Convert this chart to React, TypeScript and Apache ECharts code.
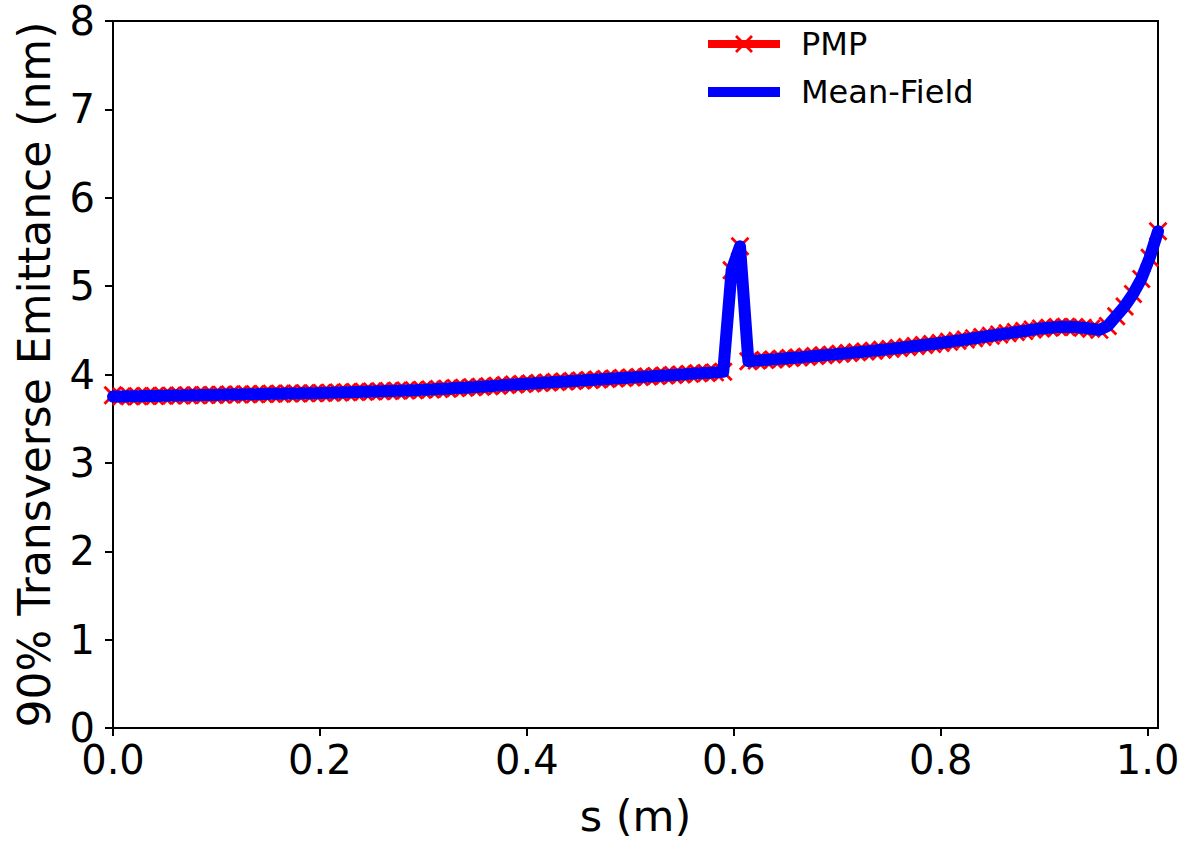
import React, { useEffect, useRef } from "react";
import * as echarts from "echarts";

const sValues = [
  0, 0.0081, 0.0162, 0.0242, 0.0323, 0.0404, 0.0485, 0.0566, 0.0646, 0.0727,
  0.0808, 0.0889, 0.097, 0.105, 0.1131, 0.1212, 0.1293, 0.1374, 0.1454, 0.1535,
  0.1616, 0.1697, 0.1778, 0.1858, 0.1939, 0.202, 0.2101, 0.2182, 0.2262, 0.2343,
  0.2424, 0.2505, 0.2586, 0.2666, 0.2747, 0.2828, 0.2909, 0.299, 0.307, 0.3151,
  0.3232, 0.3313, 0.3394, 0.3474, 0.3555, 0.3636, 0.3717, 0.3798, 0.3878, 0.3959,
  0.404, 0.4121, 0.4202, 0.4282, 0.4363, 0.4444, 0.4525, 0.4606, 0.4686, 0.4767,
  0.4848, 0.4929, 0.501, 0.509, 0.5171, 0.5252, 0.5333, 0.5414, 0.5494, 0.5575,
  0.5656, 0.5737, 0.5818, 0.5898, 0.5979, 0.606, 0.6141, 0.6222, 0.6302, 0.6383,
  0.6464, 0.6545, 0.6626, 0.6706, 0.6787, 0.6868, 0.6949, 0.703, 0.711, 0.7191,
  0.7272, 0.7353, 0.7434, 0.7514, 0.7595, 0.7676, 0.7757, 0.7838, 0.7918, 0.7999,
  0.808, 0.8161, 0.8242, 0.8322, 0.8403, 0.8484, 0.8565, 0.8646, 0.8726, 0.8807,
  0.8888, 0.8969, 0.905, 0.913, 0.9211, 0.9292, 0.9373, 0.9454, 0.9534, 0.9615,
  0.9696, 0.9777, 0.9858, 0.9938, 1.0019, 1.01,
];

const meanFieldValues = [
  3.75, 3.752, 3.753, 3.755, 3.756, 3.758, 3.76, 3.761, 3.763, 3.765,
  3.766, 3.768, 3.769, 3.771, 3.773, 3.774, 3.776, 3.777, 3.779, 3.781,
  3.782, 3.784, 3.786, 3.787, 3.789, 3.791, 3.793, 3.796, 3.799, 3.802,
  3.805, 3.808, 3.811, 3.814, 3.817, 3.82, 3.823, 3.826, 3.83, 3.835,
  3.84, 3.846, 3.851, 3.857, 3.862, 3.868, 3.874, 3.88, 3.886, 3.892,
  3.898, 3.903, 3.909, 3.914, 3.92, 3.926, 3.931, 3.937, 3.943, 3.949,
  3.954, 3.96, 3.966, 3.972, 3.978, 3.983, 3.989, 3.995, 4.001, 4.007,
  4.013, 4.018, 4.024, 4.03, 5.18, 5.45, 4.15, 4.157, 4.164, 4.171,
  4.178, 4.186, 4.193, 4.201, 4.209, 4.217, 4.225, 4.234, 4.242, 4.251,
  4.26, 4.27, 4.28, 4.29, 4.3, 4.311, 4.322, 4.333, 4.345, 4.357,
  4.37, 4.383, 4.396, 4.41, 4.424, 4.438, 4.452, 4.466, 4.48, 4.493,
  4.508, 4.52, 4.53, 4.537, 4.54, 4.537, 4.53, 4.518, 4.505, 4.55,
  4.66, 4.77, 4.91, 5.08, 5.32, 5.62,
];

const pmpValues = [
  3.765, 3.752, 3.753, 3.755, 3.756, 3.758, 3.76, 3.761, 3.763, 3.765,
  3.766, 3.768, 3.769, 3.771, 3.773, 3.774, 3.776, 3.777, 3.779, 3.781,
  3.782, 3.784, 3.786, 3.787, 3.789, 3.791, 3.793, 3.796, 3.799, 3.802,
  3.805, 3.808, 3.811, 3.814, 3.817, 3.82, 3.823, 3.826, 3.83, 3.835,
  3.84, 3.846, 3.851, 3.857, 3.862, 3.868, 3.874, 3.88, 3.886, 3.892,
  3.898, 3.903, 3.909, 3.914, 3.92, 3.926, 3.931, 3.937, 3.943, 3.949,
  3.954, 3.96, 3.966, 3.972, 3.978, 3.983, 3.989, 3.995, 4.001, 4.007,
  4.013, 4.018, 4.024, 4.03, 5.18, 5.45, 4.15, 4.157, 4.164, 4.171,
  4.178, 4.186, 4.193, 4.201, 4.209, 4.217, 4.225, 4.234, 4.242, 4.251,
  4.26, 4.27, 4.28, 4.29, 4.3, 4.311, 4.322, 4.333, 4.345, 4.357,
  4.37, 4.383, 4.396, 4.41, 4.424, 4.438, 4.452, 4.466, 4.48, 4.493,
  4.508, 4.52, 4.53, 4.537, 4.54, 4.537, 4.53, 4.518, 4.505, 4.55,
  4.66, 4.77, 4.91, 5.08, 5.32, 5.62,
];

const xTicks = [0, 0.2, 0.4, 0.6, 0.8, 1.0];
const yTicks = [0, 1, 2, 3, 4, 5, 6, 7, 8];

const FONT = "DejaVu Sans";
const RED = "#ff0000";
const BLUE = "#0000ff";
const X_SYMBOL = "path://M0,0L10,10M10,0L0,10";

export default function App() {
  const ref = useRef<HTMLDivElement>(null);
  useEffect(() => {
    if (!ref.current) return;
    const chart = echarts.init(ref.current, null, { renderer: "svg" });
    const pmpData = sValues.map((s, i) => [s, pmpValues[i]]);
    const mfData = sValues.map((s, i) => [s, meanFieldValues[i]]);
    chart.setOption({
      animation: false,
      backgroundColor: "#fff",
      grid: {
        left: 113,
        top: 21,
        right: 28,
        bottom: 110,
        show: true,
        borderColor: "#000",
        borderWidth: 2,
        backgroundColor: "transparent",
      },
      legend: {
        orient: "vertical",
        left: 698,
        top: 23,
        itemWidth: 72,
        itemHeight: 20,
        itemGap: 16,
        textStyle: {
          fontFamily: FONT,
          fontSize: 32,
          color: "#000",
          lineHeight: 32,
          padding: [0, 0, 0, 16],
        },
        data: [
          {
            name: "PMP",
            lineStyle: { width: 8, color: RED, cap: "butt" },
            itemStyle: { color: "transparent", borderColor: RED, borderWidth: 2.8 },
          },
          {
            name: "Mean-Field",
            lineStyle: { width: 10, color: BLUE, cap: "butt" },
            itemStyle: { color: "transparent", borderColor: "transparent", borderWidth: 0 },
          },
        ],
      },
      xAxis: {
        type: "value",
        min: 0,
        max: 1.01,
        interval: 0.2,
        name: "s (m)",
        nameLocation: "middle",
        nameGap: 66,
        nameTextStyle: { fontFamily: FONT, fontSize: 43, color: "#000" },
        axisLine: { show: true, lineStyle: { color: "#000", width: 2 } },
        axisTick: {
          show: true,
          length: 8,
          lineStyle: { color: "#000", width: 2 },
          customValues: xTicks,
        },
        axisLabel: {
          fontFamily: FONT,
          fontSize: 40,
          color: "#000",
          margin: 12,
          customValues: xTicks,
          formatter: (v: number) => v.toFixed(1),
        },
        splitLine: { show: false },
      },
      yAxis: {
        type: "value",
        min: 0,
        max: 8,
        interval: 1,
        name: "90% Transverse Emittance (nm)",
        nameLocation: "middle",
        nameGap: 57,
        nameTextStyle: { fontFamily: FONT, fontSize: 44, color: "#000" },
        axisLine: { show: true, lineStyle: { color: "#000", width: 2 } },
        axisTick: {
          show: true,
          length: 8,
          lineStyle: { color: "#000", width: 2 },
          customValues: yTicks,
        },
        axisLabel: {
          fontFamily: FONT,
          fontSize: 40,
          color: "#000",
          margin: 18,
          customValues: yTicks,
        },
        splitLine: { show: false },
      },
      series: [
        {
          name: "PMP",
          type: "line",
          data: pmpData,
          z: 2,
          showAllSymbol: true,
          symbol: X_SYMBOL,
          symbolSize: 17,
          lineStyle: { color: RED, width: 7, cap: "round", join: "round" },
          itemStyle: { color: "transparent", borderColor: RED, borderWidth: 2.8 },
        },
        {
          name: "Mean-Field",
          type: "line",
          data: mfData,
          z: 3,
          symbol: "none",
          lineStyle: { color: BLUE, width: 12, cap: "round", join: "round" },
          itemStyle: { color: BLUE },
        },
      ],
    });
    return () => chart.dispose();
  }, []);
  return (
    <div
      ref={ref}
      style={{ position: "fixed", left: 0, top: 0, width: 1186, height: 842, background: "#fff" }}
    />
  );
}
